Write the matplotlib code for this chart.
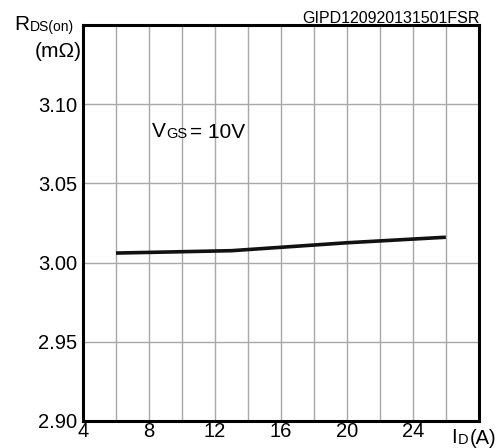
import matplotlib
matplotlib.use("Agg")
import matplotlib.pyplot as plt
import numpy as np

plt.rcParams['font.family'] = ['Liberation Sans', 'DejaVu Sans']

# data
i_d = [6, 13, 20, 26]
r_ds = [3.006, 3.0075, 3.0125, 3.016]
x_ticks = [4, 8, 12, 16, 20, 24]
y_ticks = [2.90, 2.95, 3.00, 3.05, 3.10]

fig = plt.figure(figsize=(5.03, 4.48), dpi=100)
ax = fig.add_axes([0.165, 0.0603, 0.787, 0.884])
ax.set_xlim(4, 28)
ax.set_ylim(2.90, 3.15)
grid_x = np.arange(4, 29, 2)
ax.set_xticks(grid_x)
ax.set_xticklabels([str(v) if v in x_ticks else "" for v in grid_x])
ax.set_yticks(y_ticks)
ax.set_yticklabels([f"{v:.2f}" for v in y_ticks])
ax.grid(True, color="#a8a8a8", lw=1.0)
ax.tick_params(length=0, labelsize=14.5)
ax.tick_params(axis="x", pad=1)
ax.tick_params(axis="y", pad=4)
for s in ax.spines.values():
    s.set_linewidth(2.2)

ax.plot(i_d, r_ds, color="#111111", lw=2.6, solid_capstyle="butt")


# big letter + small same-baseline subscript (+ optional trailing text)
def sub_label(x, y, big, small, after="", size=15, ssize=10):
    t = fig.text(x, y, big, fontsize=size, va="baseline")
    a = plt.annotate(small, xy=(1, 0), xycoords=t, fontsize=ssize, va="bottom",
                     xytext=(0.5, 0), textcoords="offset points")
    if after:
        plt.annotate(after, xy=(1, 0), xycoords=a, fontsize=size, va="bottom",
                     xytext=(1.5, -0.5), textcoords="offset points")
    return t


sub_label(0.028, 1 - 30 / 448, "R", "DS(on)")
fig.text(0.07, 1 - 57 / 448, "(mΩ)", fontsize=15, va="baseline")
sub_label(152 / 503, 1 - 137 / 448, "V", "GS", "= 10V", size=15, ssize=10.5)
sub_label(451 / 503, 1 - 443 / 448, "I", "D", "(A)", size=14.5, ssize=10.5)
fig.text(480 / 503, 1 - 23 / 448, "GIPD120920131501FSR", fontsize=11.5, ha="right", va="baseline")

fig.savefig("out.png", dpi=100)
